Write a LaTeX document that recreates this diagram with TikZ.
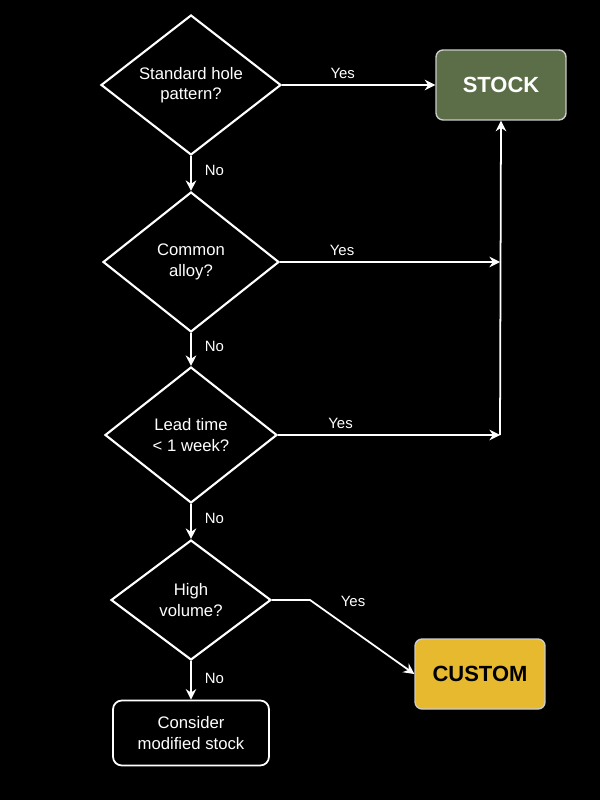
\documentclass[tikz,border=0pt]{standalone}
\usepackage{fontspec}
\setmainfont{Liberation Sans}
\usetikzlibrary{shapes.geometric,arrows.meta}
\definecolor{stockgreen}{HTML}{5B6E48}
\definecolor{customyellow}{HTML}{E6B92E}
\begin{document}
\begin{tikzpicture}[
    x=0.02cm, y=-0.02cm,
    every node/.style={font=\fontsize{9.5}{11.5}\selectfont, text=white},
    decision/.style={diamond, draw=white, line width=1.2pt, align=center, inner sep=0pt},
    result/.style={rectangle, rounded corners=4pt, draw=white!80!black, line width=0.8pt,
        minimum width=2.6cm, minimum height=1.4cm, font=\fontsize{12.5}{14}\bfseries},
    flow/.style={draw=white, line width=1pt, -{Stealth[length=6pt,width=6pt]}},
    answer/.style={font=\fontsize{8.5}{10}\selectfont, xshift=4pt}]
    \fill[black] (0,0) rectangle (600,800);
    \node[decision, minimum width=3.6cm, minimum height=2.8cm] (hole) at (191,85) {Standard hole\\pattern?};
    \node[decision, minimum width=3.52cm, minimum height=2.8cm] (alloy) at (191,262) {Common\\alloy?};
    \node[decision, minimum width=3.44cm, minimum height=2.72cm] (lead) at (191,435) {Lead time\\< 1 week?};
    \node[decision, minimum width=3.2cm, minimum height=2.4cm] (volume) at (191,600) {High\\volume?};
    \node[result, fill=stockgreen] (stock) at (501,85) {STOCK};
    \node[result, fill=customyellow, text=black] (custom) at (480,674) {CUSTOM};
    \node[rectangle, rounded corners=5pt, draw=white, line width=1pt, align=center,
        minimum width=3.12cm, minimum height=1.3cm] (modified) at (191,733) {Consider\\modified stock};
    \coordinate (alloyjoin) at (500,262);
    \coordinate (leadjoin) at (500,435);
    \coordinate (bend) at (310,600);
    % yes branches
    \draw[flow] (hole.east) -- node[above, answer, pos=0.35] {Yes} (stock.west);
    \draw[flow] (alloy.east) -- node[above, answer, pos=0.25] {Yes} (alloyjoin);
    \draw[flow] (lead.east) -- node[above, answer, pos=0.25] {Yes} (leadjoin);
    \draw[flow] (leadjoin) -- (stock.south);
    \draw[flow] (volume.east) -- (bend) -- (custom.west);
    \node[answer] (volumeyes) at (346,601) {Yes};
    % no branches
    \draw[flow] (hole.south) -- node[right, answer, pos=0.4] {No} (alloy.north);
    \draw[flow] (alloy.south) -- node[right, answer, pos=0.4] {No} (lead.north);
    \draw[flow] (lead.south) -- node[right, answer, pos=0.4] {No} (volume.north);
    \draw[flow] (volume.south) -- node[right, answer, pos=0.45] {No} (modified.north);
\end{tikzpicture}
\end{document}
